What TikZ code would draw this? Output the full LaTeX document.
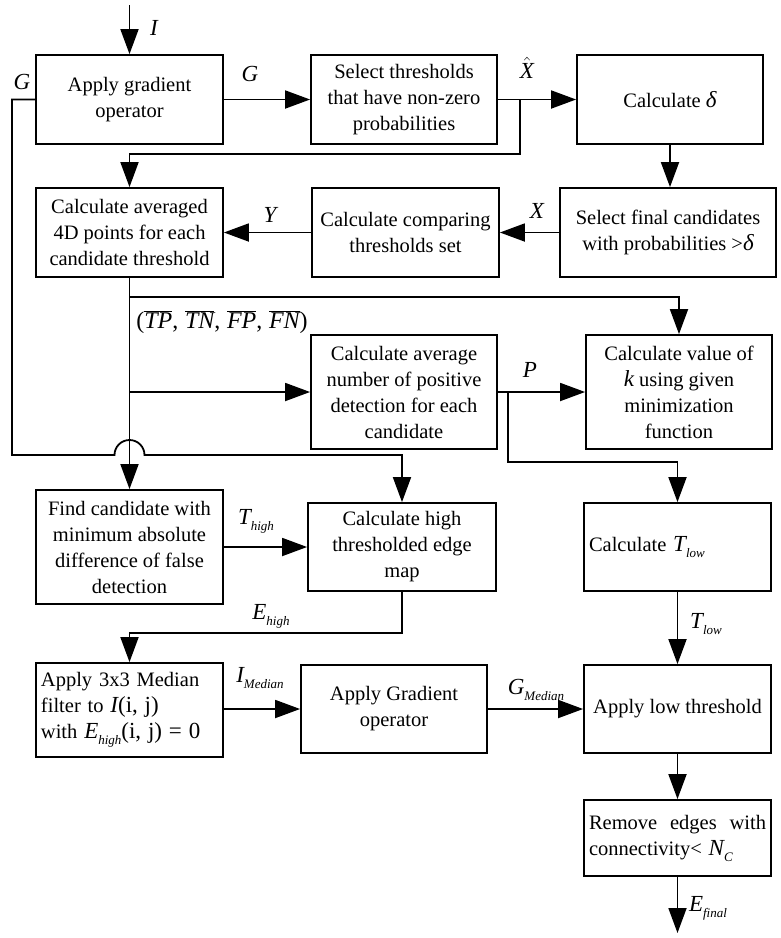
\documentclass[tikz,border=0pt]{standalone}
\usepackage{fontspec}
\setmainfont{Liberation Serif}
\usetikzlibrary{arrows.meta,calc}
\newcommand{\mv}[1]{{\fontsize{23}{23}\selectfont\itshape #1}}
\newcommand{\lab}[2]{{\fontsize{23}{23}\selectfont\itshape #1\raisebox{-6pt}{\fontsize{13}{13}\selectfont #2}}}
\newcommand{\ovl}[1]{$\overline{\mbox{\itshape #1}}$}
\begin{document}
\begin{tikzpicture}[x=1pt,y=-1pt,
  box/.style={draw, line width=1.8pt, inner sep=4pt, align=center, font=\fontsize{20.5}{26}\selectfont},
  arr/.style={line width=1.8pt, -{Triangle[length=25pt,width=18pt]}},
  lbl/.style={inner sep=0pt, font=\fontsize{23}{23}\selectfont\itshape}]
\fill[white] (0,0) rectangle (781,938);
\useasboundingbox (0,0) rectangle (781,938);

% boxes
\node[box, minimum width=187pt, minimum height=89pt] (A) at (129.5,99.5) {Apply gradient\\operator};
\node[box, minimum width=186pt, minimum height=89pt] (B) at (404,99.5) {Select thresholds\\that have non-zero\\probabilities};
\node[box, minimum width=186pt, minimum height=89pt] (C) at (670,99.5) {Calculate \mv{δ}};
\node[box, minimum width=187pt, minimum height=89pt] (D) at (129.5,232.5) {Calculate averaged\\4D points for each\\candidate threshold};
\node[box, minimum width=187pt, minimum height=89pt] (E) at (405.5,232.5) {Calculate comparing\\thresholds set};
\node[box, minimum width=216pt, minimum height=89pt] (F) at (668,232.5) {Select final candidates\\with probabilities >\mv{δ}};
\node[box, minimum width=186pt, minimum height=114pt] (I) at (404,392) {Calculate average\\number of positive\\detection for each\\candidate};
\node[box, minimum width=186pt, minimum height=114pt] (H) at (679,392) {Calculate value of\\\mv{k} using given\\minimization\\function};
\node[box, minimum width=187pt, minimum height=114pt] (G) at (129.5,547) {Find candidate with\\minimum absolute\\difference of false\\detection};
\node[box, minimum width=188pt, minimum height=88pt] (K) at (402,547) {Calculate high\\thresholded edge\\map};
\node[box, minimum width=187pt, minimum height=88pt, text width=177pt, align=left] (J) at (677.5,547) {Calculate \lab{T}{low}};
\node[box, minimum width=187pt, minimum height=94pt, text width=177pt, align=left] (L) at (129.5,710) {Apply 3x3 Median\\filter to \mv{I}{\fontsize{23}{23}\selectfont(i, j)}\\with \lab{E}{high}{\fontsize{23}{23}\selectfont(i, j) = 0}};
\node[box, minimum width=186pt, minimum height=88pt] (M) at (394,709) {Apply Gradient\\operator};
\node[box, minimum width=187pt, minimum height=88pt] (N) at (677.5,709) {Apply low threshold};
\node[box, minimum width=187pt, minimum height=76pt, text width=177pt, align=left] (O) at (677.5,838) {Remove\hfill edges\hfill with\\connectivity< \lab{N}{C}};

% labels
\node[lbl] (lI) at (154,28) {I};
\node[lbl] (lG1) at (22,82) {G};
\node[lbl] (lG2) at (250,74) {G};
\node[lbl] (lXh) at (527,68) {$\hat{\mbox{\itshape X}}$};
\node[lbl] (lY) at (270,215) {Y};
\node[lbl] (lX) at (537,211) {X};
\node[lbl, font=\fontsize{24}{24}\selectfont] (lTP) at (222,322) {(\ovl{TP},\;\ovl{TN},\;\ovl{FP},\;\ovl{FN})};
\node[lbl] (lP) at (530,370) {P};
\node[lbl] (lTh) at (256,521) {\lab{T}{high}};
\node[lbl] (lEh) at (271,616) {\lab{E}{high}};
\node[lbl] (lIm) at (260,678) {\lab{I}{Median}};
\node[lbl] (lTl) at (706,624) {\lab{T}{low}};
\node[lbl] (lGm) at (536,690) {\lab{G}{Median}};
\node[lbl] (lEf) at (708,908) {\lab{E}{final}};

% connectors
\coordinate (in) at (129.5,5);
\coordinate (xb) at (520,154);
\coordinate (ov) at (0,297);
\coordinate (pb) at (508,462);
\coordinate (gx) at (12,455);
\coordinate (eh) at (0,633);
\coordinate (out) at (677.5,933);

\draw[arr] (in) -- (A.north);
\draw[arr] (A) -- (B);
\draw[arr] (B) -- (C);
\draw[arr] (xb |- B.east) -- (xb) -| (D.north);
\draw[arr] (C.south) -- (C.south |- F.north);
\draw[arr] (F) -- (E);
\draw[arr] (E) -- (D);
\draw[arr] (D.south |- ov) -| (H.north);
\draw[arr] (D.south) -- (G.north);
\draw[arr] (D.south |- I.west) -- (I.west);
\draw[arr] (I) -- (H);
\draw[arr] (pb |- I.east) -- (pb) -| (J.north);
\draw[arr] (A.west) -| (gx) -- ($(D.south |- gx)+(-15,0)$) arc[start angle=180,end angle=360,radius=15] -| (K.north);
\draw[arr] (G) -- (K);
\draw[arr] (K.south) -- (K.south |- eh) -| (L.north);
\draw[arr] (M.west -| L.east) -- (M.west);
\draw[arr] (M) -- (N);
\draw[arr] (J) -- (N);
\draw[arr] (N) -- (O);
\draw[arr] (O.south) -- (out);
\end{tikzpicture}
\end{document}
